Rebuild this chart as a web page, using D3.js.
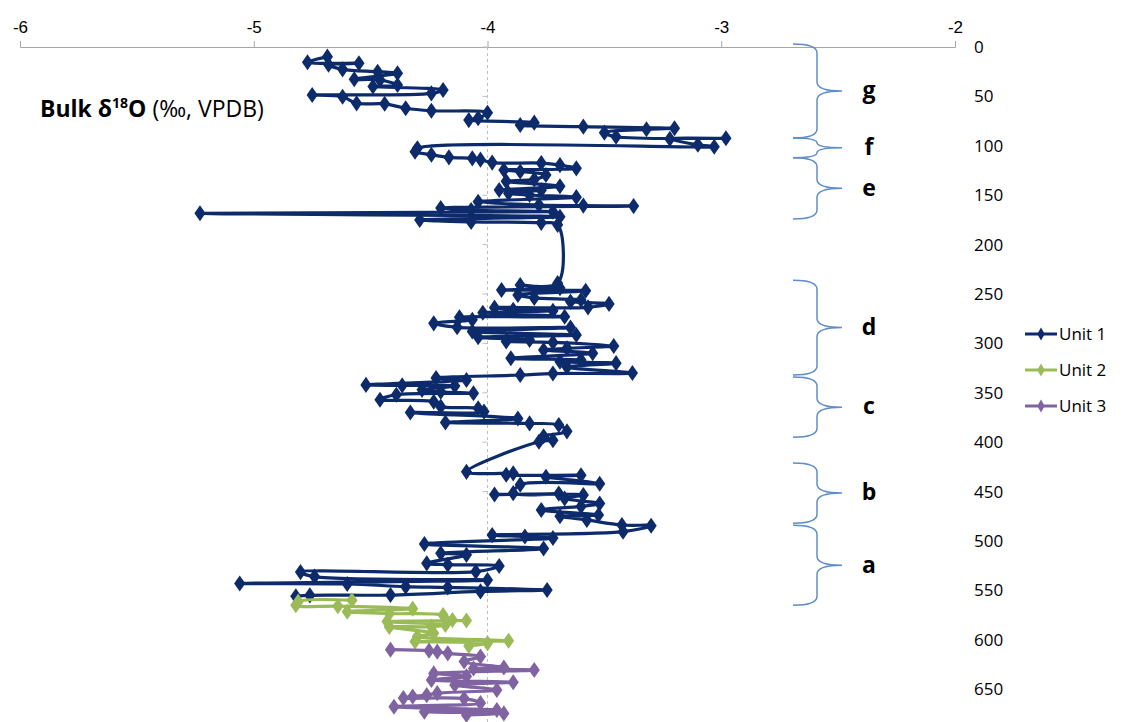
<!DOCTYPE html>
<html>
<head>
<meta charset="utf-8">
<script src="https://cdn.jsdelivr.net/npm/d3@7"></script>
<style>
  body { margin: 0; background: #fff; }
  svg { display: block; font-family: "Open Sans", "Noto Sans", sans-serif; }
</style>
</head>
<body>
<svg id="chart"></svg>
<script>
'use strict';

// depth (y) and bulk d18O (x) for each unit
var unit1Depth = [9.8, 15.5, 16.5, 18, 22.6, 25, 26.6, 32.7, 33.4, 38.5, 40, 43.5, 46.9, 48.6, 50.3, 57, 57.5, 62, 64.5, 66.5, 72, 74, 76.6, 79, 80.6, 82.3, 83.3, 86.7, 90.8, 92.4, 93, 99, 100.9,
  102.5, 106, 109, 111.7, 112.7, 114, 117, 117.5, 119.5, 122.8, 124.5, 126, 129.6, 134, 136, 141, 144.7, 145, 148, 149.8, 152, 156.6, 160, 160.5, 161, 163, 165, 166.7, 168.3, 171.8, 175, 177, 178, 180,
  239, 241, 244, 246, 246.7, 251, 254, 256, 257.7, 260, 263.5, 263.8, 266, 267, 269, 273, 273.6, 276, 279.7, 283.7, 284, 288, 291.5, 293.8, 296.6, 298, 299, 302.6, 305, 306.7, 310, 315, 316.8, 318.5, 320, 324, 330, 330.5, 332,
  335, 337, 342, 342.5, 343, 347, 349, 350.5, 352, 357, 359, 364, 365.7, 369, 370, 376, 380, 381, 382.6, 389, 394, 398, 399.5,
  430, 431.5, 433, 433.5, 435, 442, 443, 451.6, 452, 453, 453.5, 457, 462, 465, 468.6, 473.7, 475, 478.7, 483.8, 484.5, 490.6,
  494, 495.5, 497, 503, 507.6, 512.5, 514, 522.6, 524, 525.3, 531, 531.5, 536, 539.5, 543, 543.5, 546.2, 547, 549.6, 551, 554.7, 555, 556];
var unit1Value = [-4.685, -4.77, -4.55, -4.68, -4.62, -4.47, -4.385, -4.57, -4.46, -4.385, -4.49, -4.19, -4.24, -4.75, -4.62, -4.56, -4.44, -4.35, -4.24, -4.00, -4.04, -4.08, -3.80, -3.86, -3.59, -3.20, -3.32, -3.50, -3.45, -2.98, -3.22, -3.10, -3.03,
  -4.30, -4.31, -4.24, -4.165, -4.065, -4.03, -3.98, -3.77, -3.69, -3.62, -3.93, -3.86, -3.75, -3.80, -3.92, -3.69, -3.95, -3.77, -3.91, -3.82, -3.62, -4.04, -3.78, -3.59, -3.375, -4.20, -4.07, -3.72, -5.23, -3.69, -4.29, -4.07, -3.77, -3.70,
  -3.70, -3.86, -3.69, -3.94, -3.58, -3.87, -3.80, -3.60, -3.645, -3.48, -3.57, -3.97, -3.89, -3.72, -4.02, -3.67, -4.12, -4.065, -4.23, -4.13, -3.645, -4.065, -3.62, -4.04, -3.82, -3.92, -3.72, -3.46, -3.66, -3.76, -3.55, -3.90, -3.60, -3.69, -3.45, -3.66, -3.38, -3.72, -3.86,
  -4.22, -4.09, -4.52, -4.365, -4.14, -4.28, -4.20, -4.06, -4.39, -4.46, -4.23, -4.20, -4.04, -4.015, -4.33, -3.87, -4.18, -3.82, -3.695, -3.66, -3.76, -3.72, -3.78,
  -4.09, -3.89, -3.92, -3.60, -3.75, -3.52, -3.86, -3.89, -3.695, -3.97, -3.59, -3.67, -3.52, -3.60, -3.77, -3.525, -3.69, -3.575, -3.425, -3.30, -3.42,
  -3.98, -3.84, -3.72, -4.27, -3.76, -4.20, -4.09, -4.26, -4.17, -3.95, -4.05, -4.80, -4.74, -4.00, -5.06, -4.60, -4.35, -4.17, -3.745, -4.03, -4.415, -4.76, -4.82];

var unit2Depth = [560, 561.4, 565, 566, 568.5, 571.5, 573.5, 575, 580, 580.5, 581.6, 585, 586.7, 587, 593.4, 596.7, 601, 601.8, 603.6, 606.3];
var unit2Value = [-4.58, -4.81, -4.82, -4.64, -4.32, -4.60, -4.42, -4.19, -4.15, -4.09, -4.43, -4.18, -4.24, -4.42, -4.23, -4.30, -3.91, -4.31, -4.00, -4.08];

var unit3Depth = [610, 611, 612, 613.7, 617, 622, 628, 629, 630.6, 634, 637, 640.7, 643, 645.7, 650.8, 654, 656, 657.5, 659, 659.5, 664, 667.7, 671, 672.7, 674.5, 676];
var unit3Value = [-4.415, -4.25, -4.215, -4.17, -4.03, -4.10, -3.93, -4.06, -3.80, -4.23, -4.09, -4.24, -3.89, -4.14, -3.96, -4.215, -4.26, -4.32, -4.36, -4.10, -4.03, -4.40, -3.96, -4.27, -3.93, -4.09];

var seriesNames = ['Unit 1', 'Unit 2', 'Unit 3'];
var xTicks = [-6, -5, -4, -3, -2];
var yTicks = [0, 50, 100, 150, 200, 250, 300, 350, 400, 450, 500, 550, 600, 650];

// stratigraphic intervals marked with braces: label, top, bottom (depth)
var braceLabels = ['g', 'f', 'e', 'd', 'c', 'b', 'a'];
var braceTop = [-3, 92, 112, 236, 334, 421, 484];
var braceBottom = [92, 112, 174, 332, 395, 482, 565];

var w = 1122, h = 722;
var colors = ['#0D2B6B', '#9BBB59', '#8064A2'];

var svg = d3.select('#chart').attr('width', w).attr('height', h);

var x = d3.scaleLinear().domain([-6, -2]).range([20, 955]);
var y = d3.scaleLinear().domain([0, 700]).range([47, 47 + 700 * 0.988]);

// x axis along the top
var xAxis = d3.axisTop(x).tickValues(xTicks).tickSize(6).tickFormat(d3.format('d'));
var gx = svg.append('g').attr('transform', 'translate(0,' + y(0) + ')').call(xAxis);
gx.select('.domain').attr('stroke', '#A6A6A6');
gx.selectAll('.tick line').attr('stroke', '#A6A6A6');
gx.selectAll('.tick text').attr('font-size', 17).attr('fill', '#000').attr('dy', '-0.3em')
  .text(function (d) { return d < 0 ? '-' + Math.abs(d) : d; });

// y axis crossing at -4, dashed, labels at the far right
var gy = svg.append('g');
gy.append('line').attr('x1', x(-4)).attr('x2', x(-4)).attr('y1', y(0)).attr('y2', h)
  .attr('stroke', '#BFBFBF').attr('stroke-dasharray', '3,3');
gy.selectAll('.ytick').data(yTicks).enter().append('line')
  .attr('x1', x(-4) - 5).attr('x2', x(-4)).attr('y1', function (d) { return y(d); }).attr('y2', function (d) { return y(d); })
  .attr('stroke', '#BFBFBF');
gy.selectAll('.ylabel').data(yTicks).enter().append('text')
  .attr('x', 974).attr('y', function (d) { return y(d); }).attr('dy', '0.35em')
  .attr('font-size', 17).text(function (d) { return d; });

// series
var series = [
  d3.zip(unit1Value, unit1Depth),
  d3.zip(unit2Value, unit2Depth),
  d3.zip(unit3Value, unit3Depth)
];

var line = d3.line()
  .x(function (d) { return x(d[0]); })
  .y(function (d) { return y(d[1]); })
  .curve(d3.curveCatmullRom.alpha(0.5));

var diamond = d3.symbol().type(d3.symbolDiamond).size(75);

series.forEach(function (pts, i) {
  var g = svg.append('g');
  g.append('path').attr('d', line(pts)).attr('fill', 'none')
    .attr('stroke', colors[i]).attr('stroke-width', 3.2).attr('stroke-linejoin', 'round');
  g.selectAll('path.pt').data(pts).enter().append('path').attr('class', 'pt')
    .attr('d', diamond)
    .attr('transform', function (d) { return 'translate(' + x(d[0]) + ',' + y(d[1]) + ') scale(1.2,1)'; })
    .attr('fill', colors[i]);
});

// braces
function bracePath(y0, y1) {
  var xl = 793, xs = 817, xt = 842, m = (y0 + y1) / 2;
  var r = Math.min(9, (y1 - y0) / 4);
  return 'M' + xl + ',' + y0 +
    ' Q' + xs + ',' + y0 + ' ' + xs + ',' + (y0 + r) +
    ' L' + xs + ',' + (m - r) +
    ' Q' + xs + ',' + m + ' ' + xt + ',' + m +
    ' Q' + xs + ',' + m + ' ' + xs + ',' + (m + r) +
    ' L' + xs + ',' + (y1 - r) +
    ' Q' + xs + ',' + y1 + ' ' + xl + ',' + y1;
}

braceLabels.forEach(function (lab, i) {
  var y0 = y(braceTop[i]), y1 = y(braceBottom[i]);
  svg.append('path').attr('d', bracePath(y0, y1)).attr('fill', 'none')
    .attr('stroke', '#5F8DC8').attr('stroke-width', 1.5);
  svg.append('text').attr('x', 869).attr('y', (y0 + y1) / 2).attr('dy', '0.32em')
    .attr('text-anchor', 'middle').attr('font-size', 23).attr('font-weight', 'bold').text(lab);
});

// title
var title = svg.append('text').attr('x', 40).attr('y', 117).attr('font-size', 23);
title.append('tspan').attr('font-weight', 'bold').text('Bulk δ');
title.append('tspan').attr('font-weight', 'bold').attr('font-size', 14).attr('dy', -9).text('18');
title.append('tspan').attr('font-weight', 'bold').attr('dy', 9).text('O');
title.append('tspan').text(' (‰, VPDB)');

// legend
var legend = svg.append('g').attr('transform', 'translate(1025,334)');
seriesNames.forEach(function (name, i) {
  var g = legend.append('g').attr('transform', 'translate(0,' + (i * 36) + ')');
  g.append('line').attr('x1', 0).attr('x2', 32).attr('stroke', colors[i]).attr('stroke-width', 3);
  g.append('path').attr('d', diamond).attr('transform', 'translate(16,0) scale(0.8)').attr('fill', colors[i]);
  g.append('text').attr('x', 34).attr('dy', '0.35em').attr('font-size', 17).text(name);
});
</script>
</body>
</html>
